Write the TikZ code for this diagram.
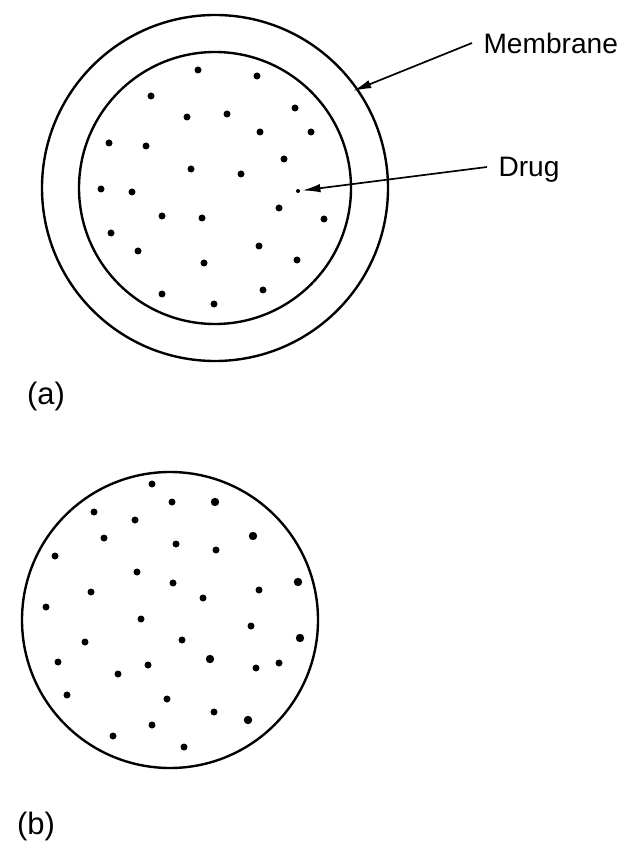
\documentclass[tikz,border=0pt]{standalone}
\usepackage{fontspec}
\setmainfont{Liberation Sans}
\usetikzlibrary{arrows.meta}

\begin{document}
\begin{tikzpicture}[x=0.025cm, y=-0.025cm,
    every node/.style={font=\fontsize{20}{24}\selectfont},
    wall/.style={line width=1.7pt},
    pointer/.style={-{Latex[length=13pt, width=6pt]}, line width=1.2pt},
    tag/.style={anchor=west, inner xsep=8pt, inner ysep=0pt, text depth=0pt},
    caption/.style={font=\fontsize{22}{26}\selectfont},
    particle/.style={fill=black}]
  \useasboundingbox (0,0) rectangle (625,845);
  % (a) reservoir with membrane
  \draw[wall] (215,188) circle (173);
  \draw[wall] (215,188) circle (136);
  \foreach \px/\py in {198/70, 257/76, 151/96, 295/108, 187/117, 227/114,
      260/132, 311/132, 109/143, 146/146, 284/159, 191/169, 241/174,
      101/189, 132/192, 279/208, 324/219, 162/216, 202/218, 111/233,
      138/251, 259/246, 297/260, 204/263, 162/294, 263/290, 214/304}
    \fill[particle] (\px,\py) circle (3.5);
  \coordinate (drugdot) at (298,191);
  \fill[particle] (drugdot) circle (2);
  \coordinate (memtip) at (353,91);
  \node[tag] (membrane) at (472,43) {Membrane};
  \node[tag] (drug) at (487,167) {Drug};
  \draw[pointer] (membrane.west) -- (memtip);
  \draw[pointer, shorten >=3pt] (drug.west) -- (drugdot);
  \node[caption] (capa) at (46,396) {(a)};
  % (b) matrix
  \draw[wall] (170,620) circle (148);
  \foreach \px/\py in {152/484, 172/502, 94/512, 135/520, 104/538, 176/544,
      216/550, 55/556, 137/572, 173/583, 91/592, 259/590, 203/598, 46/607,
      141/619, 251/626, 85/642, 182/640, 58/662, 148/665, 118/674, 256/668,
      279/663, 67/695, 167/699, 214/712, 152/725, 113/736, 184/747}
    \fill[particle] (\px,\py) circle (3.5);
  \foreach \px/\py in {215/502, 253/536, 298/582, 300/638, 210/659, 248/720}
    \fill[particle] (\px,\py) circle (4.2);
  \node[caption] (capb) at (36,826) {(b)};
\end{tikzpicture}
\end{document}
